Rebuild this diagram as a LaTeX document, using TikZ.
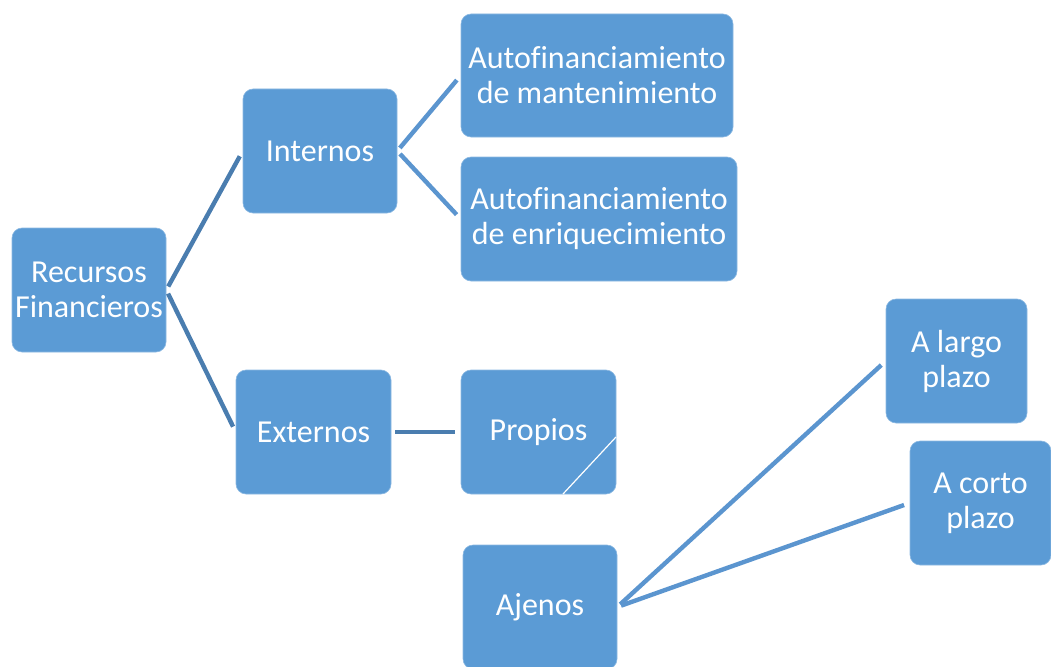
\documentclass[tikz,border=0pt]{standalone}
\usepackage{fontspec}
\setmainfont{Carlito}[Ligatures={NoCommon}]
\definecolor{boxblue}{HTML}{5B9BD5}
\definecolor{linedark}{HTML}{4A7DAF}
\definecolor{linelight}{HTML}{5B95CF}
\tikzset{
  caja/.style={rectangle, rounded corners=10pt, fill=boxblue, draw=boxblue!70!white,
    line width=0.6pt, text=white, align=center, inner sep=0pt,
    font=\fontsize{32}{35}\selectfont},
  rama/.style={line width=4.4pt, shorten <=4pt, shorten >=6pt},
}
\begin{document}
\begin{tikzpicture}[x=1pt,y=-1pt]
  \useasboundingbox (0,0) rectangle (1051,666);
  \begin{scope}
    \clip (0,0) rectangle (1051,666);
    \node[caja, minimum width=154pt, minimum height=124pt] (recursos) at (89,290) {Recursos\\Financieros};
    \node[caja, minimum width=154pt, minimum height=124pt] (internos) at (320,151) {Internos};
    \node[caja, minimum width=155pt, minimum height=124pt] (externos) at (313.5,432) {Externos};
    \node[caja, minimum width=272pt, minimum height=123pt] (mant) at (597,75.5) {Autofinanciamiento\\de mantenimiento};
    \node[caja, minimum width=276pt, minimum height=124pt] (enriq) at (599,219) {Autofinanciamiento\\de enriquecimiento};
    \node[caja, minimum width=155pt, minimum height=124pt] (propios) at (538.5,432) {Propios};
    \node[caja, minimum width=154pt, minimum height=124pt] (ajenos) at (540,607) {Ajenos};
    \node[caja, minimum width=141pt, minimum height=124pt] (largo) at (956.5,361) {A largo\\plazo};
    \node[caja, minimum width=141pt, minimum height=124pt] (corto) at (980.5,503) {A corto\\plazo};
  \end{scope}
  \begin{scope}[rama, draw=linedark]
    \draw (recursos.east) to (internos.west);
    \draw (recursos.east) to (externos.west);
    \draw (externos.east) to (propios.west);
  \end{scope}
  \begin{scope}[rama, draw=linelight]
    \draw (internos.east) to (mant.west);
    \draw (internos.east) to (enriq.west);
    \draw (ajenos.east) to (largo.west);
    \draw (ajenos.east) to (corto.west);
  \end{scope}
  \coordinate (p1) at (616,437);
  \coordinate (p2) at (563,494);
  \draw[white, line width=1.2pt] (p1) -- (p2);
\end{tikzpicture}
\end{document}
